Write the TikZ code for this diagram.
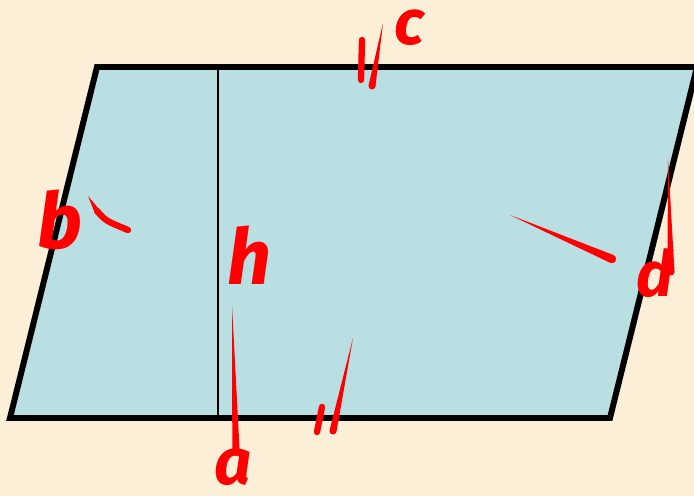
\documentclass[tikz,border=0pt]{standalone}
\usepackage{fontspec}
\setsansfont{Fira Sans}
\usetikzlibrary{calc}
\definecolor{paper}{RGB}{252,239,216}
\definecolor{sheetblue}{RGB}{185,223,227}
\definecolor{penred}{RGB}{255,0,0}

\begin{document}
\begin{tikzpicture}[x=0.02cm, y=-0.02cm,
    edge/.style={line width=3.4pt, line join=miter},
    pen/.style={penred, line width=3.6pt, line cap=round},
    hand/.style={text=penred, inner sep=0pt, anchor=base,
      font=\sffamily\bfseries\itshape\fontsize{#1}{#1}\selectfont}
  ]
  \newcommand{\taper}[3]{%
    \fill[penred] (#1) -- ($(#2)!#3!90:(#1)$) -- ($(#2)!#3!-90:(#1)$) -- cycle;
    \fill[penred] (#2) circle (#3);
  }
  \useasboundingbox (0,0) rectangle (694,496);
  \fill[paper] (0,0) rectangle (694,496);
  \clip (0,0) rectangle (694,496);

  \coordinate (bl) at (10,418);
  \coordinate (tl) at (97,67);
  \coordinate (tr) at (697,67);
  \coordinate (br) at (610,418);
  \coordinate (ftop) at (218,67);
  \coordinate (fbot) at (218,418);
  \filldraw[fill=sheetblue, edge] (bl) -- (tl) -- (tr) -- (br) -- cycle;
  \draw[line width=0.9pt] (ftop) -- (fbot);

  \node[hand=36pt] (clabel) at (409,45) {c};
  \node[hand=44pt] (blabel) at (60,249) {b};
  \node[hand=44pt] (hlabel) at (249,285) {h};
  \node[hand=37pt] (alabel) at (233,485) {a};
  \node[hand=36pt] (dlabel) at (655,297) {d};

  \draw[pen] (362,40) -- (361,80);
  \taper{383,23}{372,86}{2pt}
  \taper{88,196}{97,211}{1.6pt}
  \draw[pen] (97,211) .. controls (106,221) .. (128,230);
  \taper{232,305}{236,452}{2.1pt}
  \taper{510,215}{612,259}{2.4pt}
  \taper{668,158}{671,272}{2pt}
  \draw[pen] (322,407) -- (317,432);
  \taper{353,338}{333,431}{2pt}
\end{tikzpicture}
\end{document}
